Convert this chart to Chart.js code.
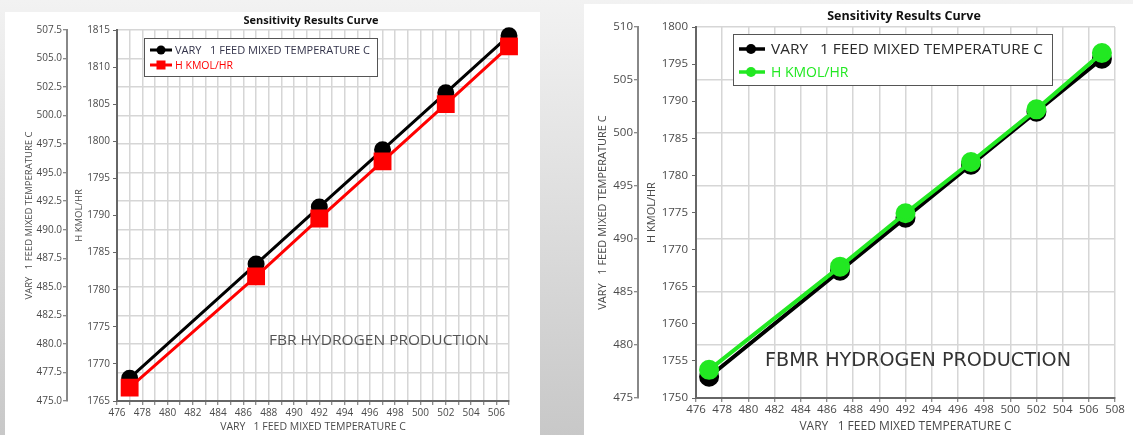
<!DOCTYPE html>
<html><head><meta charset="utf-8">
<script src="https://cdn.jsdelivr.net/npm/chart.js@4.4.1/dist/chart.umd.min.js"></script>
<style>
html,body{margin:0;padding:0;}
body{width:1133px;height:435px;position:relative;overflow:hidden;background:linear-gradient(#f2f2f2,#c8c8c8);font-family:"Open Sans",sans-serif;}
.panel{position:absolute;background:#fff;}
#p1{left:5px;top:12px;width:535px;height:423px;}
#p2{left:584px;top:4px;width:549px;height:431px;}
canvas{position:absolute;top:0;}
#c1{left:0;}
#c2{left:584px;}
.txt{position:absolute;white-space:pre;line-height:1;transform-origin:0 50%;}
.legend{position:absolute;background:#fff;border:1.5px solid #555;box-sizing:border-box;}
.sym{position:absolute;}
</style>
</head><body>
<div class="panel" id="p1"></div>
<div class="panel" id="p2"></div>
<canvas id="c1" width="540" height="435"></canvas>
<canvas id="c2" width="549" height="435"></canvas>

<div class="txt" id="t1" style="font-weight:bold;font-size:11px;color:#111;">Sensitivity Results Curve</div>
<div class="txt" id="t2" style="font-weight:bold;font-size:12.5px;color:#111;">Sensitivity Results Curve</div>

<div class="legend" style="left:144px;top:38px;width:234px;height:39px;"></div>
<svg class="sym" style="left:149px;top:44px;" width="24" height="28">
  <line x1="1" y1="6" x2="23" y2="6" stroke="#000" stroke-width="3"/>
  <circle cx="12" cy="6" r="4.5" fill="#000"/>
  <line x1="1" y1="21" x2="23" y2="21" stroke="#f00" stroke-width="3"/>
  <rect x="7.5" y="16.5" width="9" height="9" fill="#f00"/>
</svg>
<div class="txt" id="l1a" style="font-size:10.5px;color:#33334a;">VARY   1 FEED MIXED TEMPERATURE C</div>
<div class="txt" id="l1b" style="font-size:10.5px;color:#f00;">H KMOL/HR</div>

<div class="legend" style="left:733px;top:34px;width:320px;height:52px;"></div>
<svg class="sym" style="left:738px;top:40px;" width="28" height="42">
  <line x1="1" y1="9" x2="27" y2="9" stroke="#000" stroke-width="3.5"/>
  <circle cx="13" cy="9" r="5" fill="#000"/>
  <line x1="1" y1="32" x2="27" y2="32" stroke="#22e822" stroke-width="3.5"/>
  <circle cx="13" cy="32" r="5" fill="#22e822"/>
</svg>
<div class="txt" id="l2a" style="font-size:14px;color:#2a2a2a;">VARY   1 FEED MIXED TEMPERATURE C</div>
<div class="txt" id="l2b" style="font-size:14px;color:#22e822;">H KMOL/HR</div>

<div class="txt" id="a1" style="font-size:15px;color:#555;">FBR HYDROGEN PRODUCTION</div>
<div class="txt" id="a2" style="font-size:19px;color:#333;font-family:'DejaVu Sans',sans-serif;">FBMR HYDROGEN PRODUCTION</div>

<script>
// ---- data ----
const temps = [477, 487, 492, 497, 502, 507];
const fbrTemp = [477, 487, 492, 497, 502, 507];
const fbrH = [1766.8, 1781.8, 1789.6, 1797.3, 1805.0, 1812.8];
const fbmrTemp = [477, 487, 492, 497, 502, 507];
const fbmrH = [1753.8, 1767.7, 1774.9, 1781.8, 1788.9, 1796.5];

// ---- tick labels ----
const fbrXLabels = [476, 478, 480, 482, 484, 486, 488, 490, 492, 494, 496, 498, 500, 502, 504, 506];
const fbrTempTicks = [475, 477.5, 480, 482.5, 485, 487.5, 490, 492.5, 495, 497.5, 500, 502.5, 505, 507.5];
const fbrHTicks = [1765, 1770, 1775, 1780, 1785, 1790, 1795, 1800, 1805, 1810, 1815];
const fbmrXLabels = [476, 478, 480, 482, 484, 486, 488, 490, 492, 494, 496, 498, 500, 502, 504, 506, 508];
const fbmrTempTicks = [475, 480, 485, 490, 495, 500, 505, 510];
const fbmrHTicks = [1750, 1755, 1760, 1765, 1770, 1775, 1780, 1785, 1790, 1795, 1800];

const seriesNames = ['VARY   1 FEED MIXED TEMPERATURE C', 'H KMOL/HR'];
const xTitle = 'VARY   1 FEED MIXED TEMPERATURE C';

// ---- place HTML texts ----
function place(id, x, yc, targetW) {
  const el = document.getElementById(id);
  const h = el.getBoundingClientRect().height;
  el.style.left = x + 'px';
  el.style.top = (yc - h / 2) + 'px';
  if (targetW) {
    const w = el.getBoundingClientRect().width;
    el.style.transform = 'scaleX(' + (targetW / w) + ')';
  }
}
function center(id, xc, yc) {
  const el = document.getElementById(id);
  const r = el.getBoundingClientRect();
  el.style.left = (xc - r.width / 2) + 'px';
  el.style.top = (yc - r.height / 2) + 'px';
}
center('t1', 311, 19);
center('t2', 904, 16);
place('l1a', 175, 50, 195);
place('l1b', 175, 65);
place('l2a', 771, 49, 272);
place('l2b', 771, 72);
place('a1', 269, 339, 220);
place('a2', 765, 359, 306);

const FONT = '"Open Sans", sans-serif';
const GRID = '#d6d6d6';
const AXIS = '#666';
const LBL = '#4a4a4a';

function makeChart(id, c) {
  const idx = (arr) => (s) => { s.ticks = arr.map(v => ({ value: v })); };
  return new Chart(document.getElementById(id), {
    type: 'line',
    data: {
      datasets: [
        { label: seriesNames[0], data: temps.map((t, i) => ({ x: t, y: c.temp[i] })), yAxisID: 'yT',
          borderColor: '#000', backgroundColor: '#000', pointBackgroundColor: '#000', pointBorderColor: '#000',
          borderWidth: c.lw, pointRadius: c.r, pointStyle: 'circle', order: 1, clip: false },
        { label: seriesNames[1], data: temps.map((t, i) => ({ x: t, y: c.h[i] })), yAxisID: 'yH',
          borderColor: c.hColor, backgroundColor: c.hColor, pointBackgroundColor: c.hColor, pointBorderColor: c.hColor,
          borderWidth: c.lw, pointRadius: c.hr, pointStyle: c.hStyle, order: 0, clip: false }
      ]
    },
    options: {
      responsive: false, animation: false, devicePixelRatio: 1,
      layout: { padding: { left: 0, right: c.padR, top: c.padT, bottom: 0 } },
      plugins: { legend: { display: false }, tooltip: { enabled: false }, title: { display: false } },
      scales: {
        x: {
          type: 'linear', min: c.xMin, max: c.xMax, position: 'bottom',
          ticks: { stepSize: c.xStep, autoSkip: false, maxRotation: 0, minRotation: 0,
            callback: (v) => c.xLabels.includes(v) ? String(v) : '',
            font: { family: FONT, size: c.tickFs }, color: LBL, padding: c.xPad },
          grid: { color: GRID, lineWidth: 1.5, tickLength: 4, tickColor: AXIS, tickWidth: 1 },
          border: { color: AXIS, width: 2 },
          title: { display: true, text: xTitle, font: { family: FONT, size: c.titleFs }, color: LBL, padding: { top: 0, bottom: c.xTitlePad } },
          afterFit: (s) => { s.height = c.xH; }
        },
        yH: {
          type: 'linear', position: 'left', weight: 0, min: c.hTicks[0], max: c.hTicks[c.hTicks.length - 1],
          afterBuildTicks: idx(c.hTicks),
          ticks: { autoSkip: false, font: { family: FONT, size: c.tickFs }, color: LBL, padding: c.hPad,
            callback: (v) => String(v) },
          grid: { drawOnChartArea: false, tickLength: 4, tickColor: AXIS, tickWidth: 1 },
          border: { color: AXIS, width: 2 },
          title: { display: true, text: seriesNames[1], font: { family: FONT, size: c.yTitleFs }, color: LBL, padding: { top: c.hTitlePad, bottom: 0 } },
          afterFit: (s) => { s.width = c.hW; }
        },
        yT: {
          type: 'linear', position: 'left', weight: 1, min: c.tTicks[0], max: c.tTicks[c.tTicks.length - 1],
          afterBuildTicks: idx(c.tTicks),
          ticks: { autoSkip: false, font: { family: FONT, size: c.tickFs }, color: LBL, padding: c.tPad,
            callback: (v) => c.tFmt(v) },
          grid: { drawOnChartArea: true, color: GRID, lineWidth: 1.5, tickLength: 4, tickColor: AXIS, tickWidth: 1 },
          border: { color: '#888', width: 2 },
          title: { display: true, text: seriesNames[0], font: { family: FONT, size: c.yTitleFs }, color: LBL, padding: { top: c.tTitlePad, bottom: 0 } },
          afterFit: (s) => { s.width = c.tW; }
        }
      }
    }
  });
}

makeChart('c1', {
  temp: fbrTemp, h: fbrH, hColor: '#ff0000', hStyle: 'rect', r: 7, hr: 10.5, lw: 3,
  xMin: 476, xMax: 507, xStep: 1, xLabels: fbrXLabels,
  hTicks: fbrHTicks, tTicks: fbrTempTicks, tFmt: (v) => v.toFixed(1),
  padR: 31, padT: 30, xH: 34, hW: 50, tW: 67,
  tickFs: 10, titleFs: 10.5, yTitleFs: 9.5, xPad: 2, xTitlePad: 1.5,
  hPad: 3, tPad: 1, hTitlePad: 6.3, tTitlePad: 23.3
});

makeChart('c2', {
  temp: fbmrTemp, h: fbmrH, hColor: '#22e822', hStyle: 'circle', r: 8, hr: 8, lw: 4,
  xMin: 476, xMax: 508, xStep: 2, xLabels: fbmrXLabels,
  hTicks: fbmrHTicks, tTicks: fbmrTempTicks, tFmt: (v) => String(v),
  padR: 18, padT: 27, xH: 37, hW: 58, tW: 54,
  tickFs: 11.5, titleFs: 12, yTitleFs: 11, xPad: 1, xTitlePad: 1,
  hPad: 4, tPad: 1, hTitlePad: 7.4, tTitlePad: 12.4
});
</script>
</body></html>
